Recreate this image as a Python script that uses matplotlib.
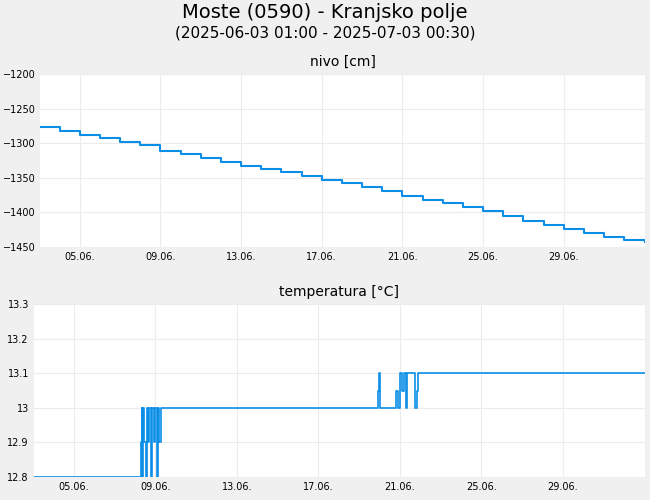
import matplotlib
matplotlib.use('Agg')
import matplotlib.pyplot as plt
import matplotlib.dates as mdates
import pandas as pd

title = 'Moste (0590) - Kranjsko polje'
subtitle = '(2025-06-03 01:00 - 2025-07-03 00:30)'

nivo_times = ['2025-06-03 01:00','2025-06-04','2025-06-05','2025-06-06','2025-06-07','2025-06-08',
              '2025-06-08 12:00','2025-06-09','2025-06-10','2025-06-11','2025-06-12','2025-06-13',
              '2025-06-14','2025-06-15','2025-06-16','2025-06-17','2025-06-18','2025-06-19',
              '2025-06-20','2025-06-21','2025-06-22','2025-06-23','2025-06-24','2025-06-25',
              '2025-06-26','2025-06-27','2025-06-28','2025-06-29','2025-06-30','2025-07-01',
              '2025-07-02','2025-07-03 00:30']
nivo = [-1277,-1282,-1288,-1293,-1298,-1302,-1303,-1311,-1316,-1321,-1327,-1333,
        -1338,-1342,-1347,-1353,-1358,-1363,-1369,-1376,-1382,-1386,-1392,-1398,
        -1405,-1412,-1418,-1424,-1430,-1436,-1440,-1443]

temp_times = ['2025-06-03 01:00','2025-06-08 07:00','2025-06-08 08:00','2025-06-08 09:00',
              '2025-06-08 10:00','2025-06-08 11:00','2025-06-08 13:00','2025-06-08 14:00',
              '2025-06-08 16:00','2025-06-08 17:00','2025-06-08 19:00','2025-06-08 20:00',
              '2025-06-08 22:00','2025-06-09 00:00','2025-06-09 02:00','2025-06-09 03:00',
              '2025-06-09 05:00','2025-06-09 07:00','2025-06-09 09:00',
              '2025-06-19 22:00','2025-06-20 00:00','2025-06-20 01:00',
              '2025-06-20 20:00','2025-06-20 22:00','2025-06-21 00:00','2025-06-21 03:00',
              '2025-06-21 05:00','2025-06-21 07:00','2025-06-21 09:00','2025-06-21 10:00',
              '2025-06-21 16:00','2025-06-21 18:00','2025-06-21 20:00','2025-06-21 21:00',
              '2025-07-03 00:30']
temp = [12.8,12.9,13.0,12.8,13.0,12.9,12.8,13.0,12.9,13.0,12.8,13.0,12.9,13.0,12.8,13.0,
        12.9,13.0,13.0,
        13.05,13.1,13.0,
        13.05,13.0,13.1,13.05,13.1,13.0,13.1,13.1,
        13.1,13.0,13.05,13.1,13.1]

nivo_t = pd.to_datetime(nivo_times, format='mixed')
temp_t = pd.to_datetime(temp_times, format='mixed')

col = '#0a8ee8'
fig = plt.figure(figsize=(6.5, 5), dpi=100, facecolor='#f0f0f0')
fig.text(0.5, 0.965, title, ha='center', fontsize=14)
fig.text(0.5, 0.925, subtitle, ha='center', fontsize=11)

ax1 = fig.add_axes([0.062, 0.506, 0.93, 0.346])
ax2 = fig.add_axes([0.052, 0.046, 0.94, 0.346])

ax1.step(nivo_t, nivo, where='post', color=col, lw=1.5)
ax2.step(temp_t, temp, where='post', color=col, lw=1.2)

ax1.set_ylim(-1450, -1200)
ax1.set_yticks([-1450,-1400,-1350,-1300,-1250,-1200])
ax2.set_ylim(12.8, 13.3)
ax2.set_yticks([12.8,12.9,13.0,13.1,13.2,13.3])
ax2.set_yticklabels(['12.8','12.9','13','13.1','13.2','13.3'])
ax1.set_title('nivo [cm]', fontsize=10)
ax2.set_title('temperatura [°C]', fontsize=10)

for ax in (ax1, ax2):
    ax.set_xlim(nivo_t[0], nivo_t[-1])
    ax.xaxis.set_major_locator(mdates.DayLocator(bymonthday=[5,9,13,17,21,25,29]))
    ax.xaxis.set_major_formatter(mdates.DateFormatter('%d.%m.'))
    ax.grid(True, color='#ececec', lw=0.8)
    ax.set_axisbelow(True)
    for s in ax.spines.values():
        s.set_visible(False)
    ax.tick_params(labelsize=7, length=0)

fig.savefig('out.png', dpi=100, facecolor=fig.get_facecolor())
